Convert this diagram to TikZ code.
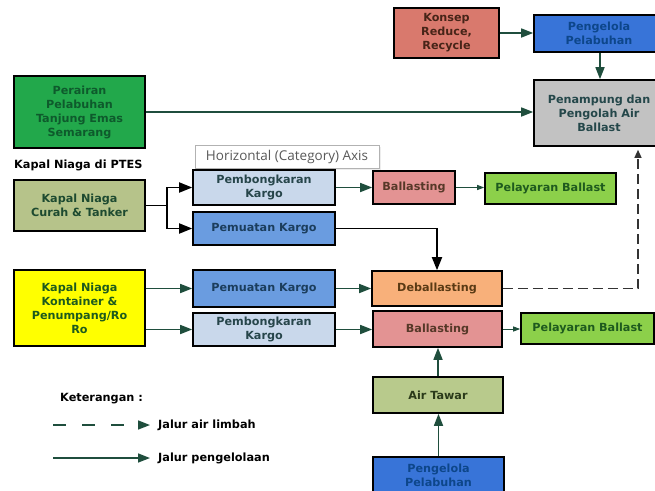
\documentclass[tikz,border=0pt]{standalone}
\usepackage{fontspec}
\setmainfont{DejaVu Sans}
\newfontfamily\tipfont{Open Sans}
\usetikzlibrary{arrows.meta}
\definecolor{arr}{HTML}{1F4E3D}
\definecolor{cPerairan}{HTML}{22A84B}
\definecolor{tPerairan}{HTML}{0E5A2C}
\definecolor{cCurah}{HTML}{B6C38A}
\definecolor{tCurah}{HTML}{1D4A30}
\definecolor{cLightBlue}{HTML}{C9D8EB}
\definecolor{tLightBlue}{HTML}{26454A}
\definecolor{cMidBlue}{HTML}{6A9CE0}
\definecolor{tMidBlue}{HTML}{1B3D5C}
\definecolor{cBall}{HTML}{E39393}
\definecolor{tBall}{HTML}{563828}
\definecolor{cPel}{HTML}{8CD04A}
\definecolor{tPel}{HTML}{1E5A1E}
\definecolor{cKonsep}{HTML}{D9796D}
\definecolor{tKonsep}{HTML}{472418}
\definecolor{cPeng}{HTML}{3874D8}
\definecolor{tPeng}{HTML}{0D468A}
\definecolor{cPenam}{HTML}{C2C2C2}
\definecolor{tPenam}{HTML}{24474A}
\definecolor{cKont}{HTML}{FFFF00}
\definecolor{tKont}{HTML}{1D5A1D}
\definecolor{cDeb}{HTML}{F8B07A}
\definecolor{tDeb}{HTML}{5A3A14}
\definecolor{cAir}{HTML}{B8CA8C}
\definecolor{tAir}{HTML}{2A3A1A}
\begin{document}
\begin{tikzpicture}[x=1pt,y=-1pt,
  box/.style={draw=black, line width=1.6pt, align=center, inner sep=1pt,
    font=\fontsize{11.2}{14}\selectfont\bfseries},
  flow/.style={draw=arr, line width=1.5pt, -{Triangle[length=12pt,width=9pt]}},
  blkflow/.style={draw=black, line width=1.8pt, -{Triangle[length=13pt,width=10pt]}},
  blkline/.style={draw=black, line width=1.8pt},
  smallflow/.style={draw=arr, line width=0.9pt, -{Triangle[length=7pt,width=5pt]}},
  wasteflow/.style={draw=black!80, line width=1.3pt, dash pattern=on 10pt off 5pt, -{Triangle[length=8pt,width=7pt]}},
  legdash/.style={draw=arr, line width=1.6pt, dash pattern=on 13pt off 16pt, -{Triangle[length=12pt,width=9pt]}},
  plain/.style={font=\fontsize{11.3}{14}\selectfont\bfseries, text=black, inner sep=0pt}
]
\useasboundingbox (0,0) rectangle (655,490);
\clip (0,0) rectangle (655,490);
\fill[white] (0,0) rectangle (655,490);

% top right
\node[box, fill=cKonsep, text=tKonsep, minimum width=105pt, minimum height=50pt] (konsep) at (446.5,33) {Konsep\\Reduce,\\Recycle};
\node[box, fill=cPeng, text=tPeng, minimum width=130pt, minimum height=37pt] (pengA) at (599,33.5) {Pengelola\\Pelabuhan};
\node[box, fill=cPenam, text=tPenam, minimum width=130pt, minimum height=66pt] (penampung) at (599,113) {Penampung dan\\Pengolah Air\\Ballast};

% left column
\node[box, fill=cPerairan, text=tPerairan, minimum width=131pt, minimum height=72pt] (perairan) at (79.5,112) {Perairan\\Pelabuhan\\Tanjung Emas\\Semarang};
\node[plain, anchor=west] (ptes) at (14,165) {Kapal Niaga di PTES};
\node[box, fill=cCurah, text=tCurah, minimum width=131pt, minimum height=51pt] (curah) at (79.5,205.5) {Kapal Niaga\\Curah \& Tanker};
\node[box, fill=cKont, text=tKont, minimum width=131pt, minimum height=76pt] (kontainer) at (79.5,308) {Kapal Niaga\\Kontainer \&\\Penumpang/Ro\\Ro};

% tooltip
\node[fill=black!7, minimum width=184pt, minimum height=23pt, inner sep=0pt] (tipshadow) at (288.5,158) {};
\node[draw=black!30, fill=white, line width=0.6pt, minimum width=184pt, minimum height=23pt, inner sep=0pt,
  font=\tipfont\fontsize{13.5}{15}\selectfont, text=black!65] (tip) at (287,156.5) {Horizontal (Category) Axis};

% middle column
\node[box, fill=cLightBlue, text=tLightBlue, minimum width=142pt, minimum height=35pt] (pembA) at (264,187.5) {Pembongkaran\\Kargo};
\node[box, fill=cMidBlue, text=tMidBlue, minimum width=142pt, minimum height=33pt] (pemA) at (264,228.5) {Pemuatan Kargo};
\node[box, fill=cMidBlue, text=tMidBlue, minimum width=142pt, minimum height=37pt] (pemB) at (264,288.5) {Pemuatan Kargo};
\node[box, fill=cLightBlue, text=tLightBlue, minimum width=142pt, minimum height=33pt] (pembB) at (264,329.5) {Pembongkaran\\Kargo};

% right middle
\node[box, fill=cBall, text=tBall, minimum width=82pt, minimum height=33pt] (ballA) at (414,187.5) {Ballasting};
\node[box, fill=cPel, text=tPel, minimum width=131pt, minimum height=31pt] (pelA) at (550.5,188.5) {Pelayaran Ballast};
\node[box, fill=cDeb, text=tDeb, minimum width=130pt, minimum height=35pt] (deball) at (437,288.5) {Deballasting};
\node[box, fill=cBall, text=tBall, minimum width=129pt, minimum height=36pt] (ballB) at (437.5,329) {Ballasting};
\node[box, fill=cPel, text=tPel, minimum width=133pt, minimum height=31pt] (pelB) at (587.5,328.5) {Pelayaran Ballast};
\node[box, fill=cAir, text=tAir, minimum width=130pt, minimum height=36pt] (airtawar) at (438,395) {Air Tawar};
\node[box, fill=cPeng, text=tPeng, minimum width=131pt, minimum height=37pt] (pengB) at (438.5,475.5) {Pengelola\\Pelabuhan};

% helper coordinates
\coordinate (xa) at (600,0);
\coordinate (br) at (167,0);
\coordinate (dx) at (638,0);

% connectors
\draw[flow] (konsep.east) -- (konsep.east -| pengA.west);
\draw[flow] (pengA.south -| xa) -- (penampung.north -| xa);
\draw[flow] (perairan.east) -- (perairan.east -| penampung.west);

\draw[blkline] (curah.east) -- (curah.east -| br);
\draw[blkflow] (curah.east -| br) |- (pembA.west);
\draw[blkflow] (curah.east -| br) |- (pemA.west);

\draw[flow] (pembA.east) -- (pembA.east -| ballA.west);
\draw[smallflow] (ballA.east) -- (ballA.east -| pelA.west);
\draw[blkflow] (pemA.east) -| (deball.north);

\draw[flow] (kontainer.east |- pemB.west) -- (pemB.west);
\draw[flow] (kontainer.east |- pembB.west) -- (pembB.west);
\draw[flow] (pemB.east) -- (pemB.east -| deball.west);
\draw[flow] (pembB.east) -- (pembB.east -| ballB.west);
\draw[smallflow] (ballB.east) -- (ballB.east -| pelB.west);
\draw[flow] (airtawar.north) -- (airtawar.north |- ballB.south);
\draw[flow] (pengB.north) -- (pengB.north |- airtawar.south);

\draw[wasteflow] (deball.east) -- (deball.east -| dx) -- ([yshift=-3pt]penampung.south -| dx);

% legend
\node[plain, anchor=west] (ket) at (60,399) {Keterangan :};
\coordinate (la1) at (53,425);
\coordinate (lb1) at (150,425);
\coordinate (la2) at (53,458);
\coordinate (lb2) at (150,458);
\draw[legdash] (la1) -- (lb1);
\draw[flow] (la2) -- (lb2);
\node[plain, anchor=west] (leg1) at (158,425) {Jalur air limbah};
\node[plain, anchor=west] (leg2) at (158,458) {Jalur pengelolaan};
\end{tikzpicture}
\end{document}
